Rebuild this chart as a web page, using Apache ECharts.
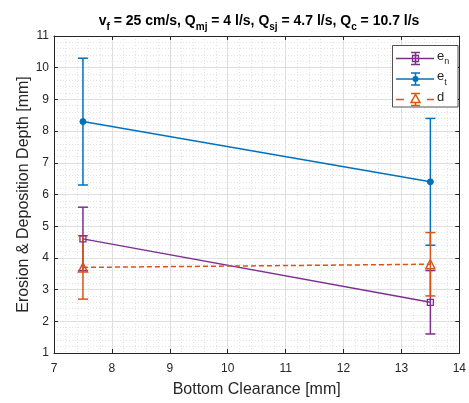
<!DOCTYPE html>
<html>
<head>
<meta charset="utf-8">
<script src="https://cdn.jsdelivr.net/npm/echarts@6/dist/echarts.min.js"></script>
<style>html,body{margin:0;padding:0;background:#fff}#c{width:469px;height:403px}</style>
</head>
<body>
<div id="c"></div>
<script>
const xValues = [7.5, 13.5];
const enValues = [4.6, 2.6];
const enErr = [1.0, 1.0];
const etValues = [8.3, 6.4];
const etErr = [2.0, 2.0];
const dValues = [3.7, 3.8];
const dErr = [1.0, 1.0];
const xTicks = [7, 8, 9, 10, 11, 12, 13, 14];
const yTicks = [1, 2, 3, 4, 5, 6, 7, 8, 9, 10, 11];

const cPurple = '#7E2F8E', cBlue = '#0072BD', cOrange = '#D95319';
const font = 'Liberation Sans, Arial, Helvetica, sans-serif';
const axisColor = '#262626';

function pts(vals) { return xValues.map((x, i) => [x, vals[i]]); }
function errPts(vals, err) { return xValues.map((x, i) => [x, vals[i] - err[i], vals[i] + err[i]]); }

function errSeries(name, vals, err, color) {
  return {
    type: 'custom', name: name + '_err', xAxisIndex: 0, yAxisIndex: 0,
    data: errPts(vals, err), silent: true, z: 3,
    renderItem: function (params, api) {
      const x = api.value(0);
      const lo = api.coord([x, api.value(1)]);
      const hi = api.coord([x, api.value(2)]);
      const w = 5;
      const st = { stroke: color, lineWidth: 1.5, fill: null };
      return {
        type: 'group', children: [
          { type: 'line', shape: { x1: lo[0], y1: lo[1], x2: hi[0], y2: hi[1] }, style: st },
          { type: 'line', shape: { x1: lo[0] - w, y1: lo[1], x2: lo[0] + w, y2: lo[1] }, style: st },
          { type: 'line', shape: { x1: hi[0] - w, y1: hi[1], x2: hi[0] + w, y2: hi[1] }, style: st }
        ]
      };
    }
  };
}

// legend drawn as graphic (box + icons with error bars)
function legendEntry(y, color, marker, dashed, label, sub) {
  const st = { stroke: color, lineWidth: 1.5, fill: null };
  const items = [];
  if (dashed) {
    items.push({ type: 'line', shape: { x1: 396, y1: y, x2: 404, y2: y }, style: st });
    items.push({ type: 'line', shape: { x1: 427, y1: y, x2: 434, y2: y }, style: st });
  } else {
    items.push({ type: 'line', shape: { x1: 396, y1: y, x2: 434, y2: y }, style: st });
  }
  const cx = 415.5;
  items.push({ type: 'line', shape: { x1: cx, y1: y - 6, x2: cx, y2: y + 6 }, style: st });
  items.push({ type: 'line', shape: { x1: cx - 4.5, y1: y - 6, x2: cx + 4.5, y2: y - 6 }, style: st });
  items.push({ type: 'line', shape: { x1: cx - 4.5, y1: y + 6, x2: cx + 4.5, y2: y + 6 }, style: st });
  if (marker === 'rect') {
    items.push({ type: 'rect', shape: { x: cx - 3, y: y - 3, width: 6, height: 6 }, style: { stroke: color, lineWidth: 1.3, fill: 'rgba(0,0,0,0)' } });
  } else if (marker === 'circle') {
    items.push({ type: 'circle', shape: { cx: cx, cy: y, r: 3 }, style: { fill: color } });
  } else {
    items.push({ type: 'polygon', shape: { points: [[cx, y - 5], [cx - 4.5, y + 3], [cx + 4.5, y + 3]] }, style: { stroke: color, lineWidth: 1.5, fill: '#fff' } });
  }
  items.push({
    type: 'text', x: 437, y: y - 9,
    style: {
      text: sub ? '{m|' + label + '}{s|' + sub + '}' : '{m|' + label + '}',
      rich: {
        m: { fontSize: 13, fill: axisColor, fontFamily: font, verticalAlign: 'top', lineHeight: 16 },
        s: { fontSize: 9, fill: axisColor, fontFamily: font, verticalAlign: 'top', lineHeight: 16, padding: [8, 0, 0, 0] }
      }
    }
  });
  items.forEach(function (it) { it.z = 101; });
  return items;
}

const chart = echarts.init(document.getElementById('c'), null, { renderer: 'canvas' });

const baseAxis = {
  axisLine: { show: true, onZero: false, lineStyle: { color: axisColor, width: 1 } },
  axisTick: { show: true, inside: true, length: 4, lineStyle: { color: axisColor } },
  minorTick: { show: false, splitNumber: 5 },
  axisLabel: { color: axisColor, fontSize: 12, fontFamily: font },
  splitLine: { show: true, lineStyle: { color: '#dfdfdf', width: 1 } },
  minorSplitLine: { show: true, lineStyle: { color: '#e3e3e3', type: [1, 2], width: 1 } }
};

const legendGraphics = [
  { type: 'rect', z: 100, shape: { x: 392.5, y: 45.5, width: 65.5, height: 61.5 }, style: { fill: '#fff', stroke: axisColor, lineWidth: 0.8 } }
].concat(legendEntry(58.5, cPurple, 'rect', false, 'e', 'n'))
 .concat(legendEntry(79, cBlue, 'circle', false, 'e', 't'))
 .concat(legendEntry(99.5, cOrange, 'tri', true, 'd', ''));

chart.setOption({
  animation: false,
  backgroundColor: '#fff',
  textStyle: { fontFamily: font },
  title: {
    left: 254, top: 9, textAlign: 'center',
    text: '{b|v}{s|f}{b| = 25 cm/s, Q}{s|mj}{b| = 4 l/s, Q}{s|sj}{b| = 4.7 l/s, Q}{s|c}{b| = 10.7 l/s}',
    textStyle: {
      rich: {
        b: { fontSize: 14, fontWeight: 'bold', color: '#000', fontFamily: font, verticalAlign: 'top', lineHeight: 16 },
        s: { fontSize: 10, fontWeight: 'bold', color: '#000', fontFamily: font, verticalAlign: 'top', lineHeight: 16, padding: [8, 0, 0, 0] }
      }
    }
  },
  grid: { left: 54, right: 6, top: 36, bottom: 44, containLabel: false },
  graphic: legendGraphics,
  xAxis: [
    Object.assign({}, baseAxis, {
      type: 'value', min: 7, max: 14, interval: 1, position: 'bottom',
      axisLabel: { color: axisColor, fontSize: 12, fontFamily: font, margin: 10 },
      name: 'Bottom Clearance [mm]', nameLocation: 'middle', nameGap: 29, nameMoveOverlap: false,
      nameTextStyle: { fontSize: 16, color: axisColor, fontFamily: font }
    }),
    {
      type: 'value', min: 7, max: 14, interval: 1, position: 'top',
      axisLine: { show: true, onZero: false, lineStyle: { color: axisColor } },
      axisTick: { show: true, inside: true, length: 4, lineStyle: { color: axisColor } },
      axisLabel: { show: false }, splitLine: { show: false }
    }
  ],
  yAxis: [
    Object.assign({}, baseAxis, {
      type: 'value', min: 1, max: 11, interval: 1, position: 'left',
      axisLabel: { color: axisColor, fontSize: 12, fontFamily: font, margin: 5 },
      name: 'Erosion & Deposition Depth [mm]', nameLocation: 'middle', nameGap: 22, nameMoveOverlap: false,
      nameTextStyle: { fontSize: 16, color: axisColor, fontFamily: font }
    }),
    {
      type: 'value', min: 1, max: 11, interval: 1, position: 'right',
      axisLine: { show: true, onZero: false, lineStyle: { color: axisColor } },
      axisTick: { show: true, inside: true, length: 4, lineStyle: { color: axisColor } },
      axisLabel: { show: false }, splitLine: { show: false }
    }
  ],
  series: [
    errSeries('en', enValues, enErr, cPurple),
    {
      name: 'en', type: 'line', data: pts(enValues), z: 4,
      symbol: 'rect', symbolSize: 6, showAllSymbol: true,
      itemStyle: { color: 'rgba(255,255,255,0)', borderColor: cPurple, borderWidth: 1.3 },
      lineStyle: { color: cPurple, width: 1.5 }, color: cPurple
    },
    errSeries('et', etValues, etErr, cBlue),
    {
      name: 'et', type: 'line', data: pts(etValues), z: 4,
      symbol: 'circle', symbolSize: 6,
      itemStyle: { color: cBlue, borderColor: cBlue },
      lineStyle: { color: cBlue, width: 1.5 }, color: cBlue
    },
    errSeries('d', dValues, dErr, cOrange),
    {
      name: 'd', type: 'line', data: pts(dValues), z: 4,
      symbol: 'triangle', symbolSize: 9,
      itemStyle: { color: 'rgba(255,255,255,0)', borderColor: cOrange, borderWidth: 1.5 },
      lineStyle: { color: cOrange, width: 1.5, type: [5, 3] }, color: cOrange
    }
  ]
});
</script>
</body>
</html>
